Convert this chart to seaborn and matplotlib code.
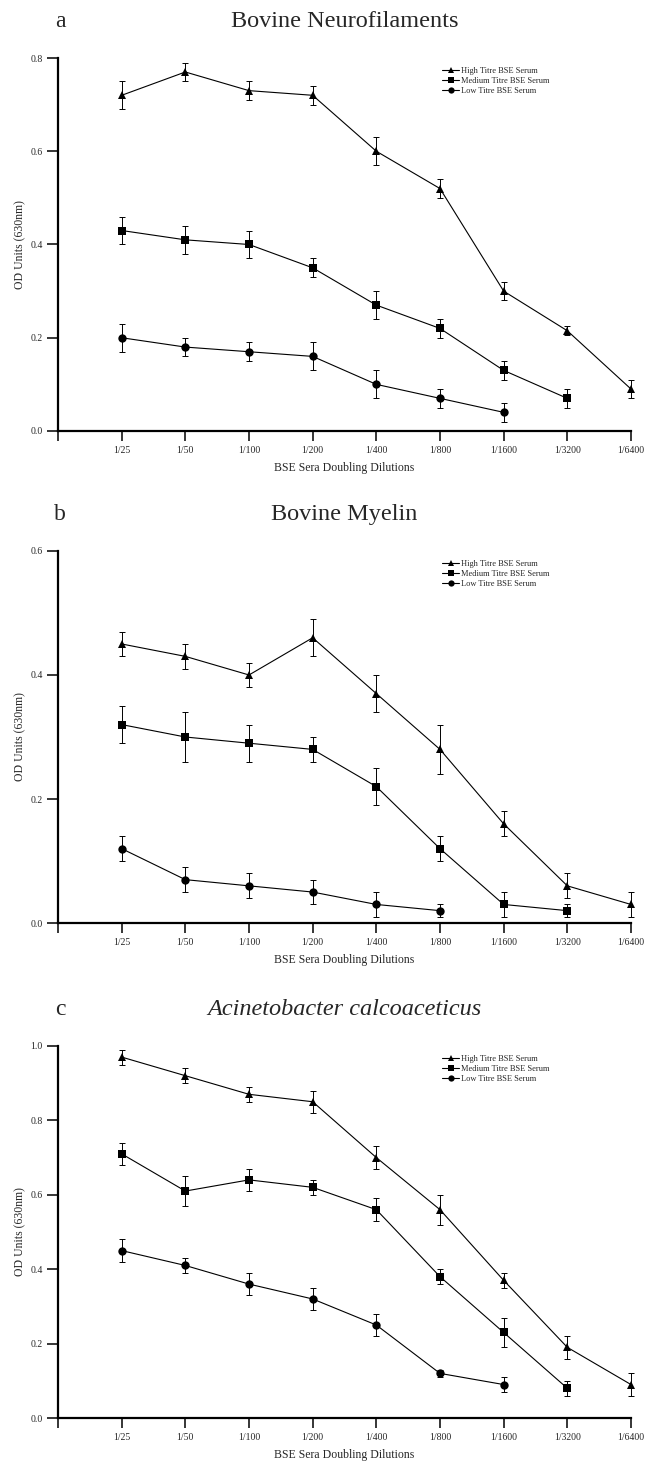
import numpy as np
import pandas as pd
import matplotlib
matplotlib.use("Agg")
import matplotlib.pyplot as plt
import seaborn as sns

# ── Data ──────────────────────────────────────────────────────────────────────
dilutions = ["1/25", "1/50", "1/100", "1/200", "1/400", "1/800", "1/1600", "1/3200", "1/6400"]
series_names = ["High Titre BSE Serum", "Medium Titre BSE Serum", "Low Titre BSE Serum"]

# a — Bovine Neurofilaments
neuro_high = [0.72, 0.77, 0.73, 0.72, 0.60, 0.52, 0.30, 0.215, 0.09]
neuro_high_err = [0.03, 0.02, 0.02, 0.02, 0.03, 0.02, 0.02, 0.01, 0.02]
neuro_med = [0.43, 0.41, 0.40, 0.35, 0.27, 0.22, 0.13, 0.07]
neuro_med_err = [0.03, 0.03, 0.03, 0.02, 0.03, 0.02, 0.02, 0.02]
neuro_low = [0.20, 0.18, 0.17, 0.16, 0.10, 0.07, 0.04]
neuro_low_err = [0.03, 0.02, 0.02, 0.03, 0.03, 0.02, 0.02]

# b — Bovine Myelin
myelin_high = [0.45, 0.43, 0.40, 0.46, 0.37, 0.28, 0.16, 0.06, 0.03]
myelin_high_err = [0.02, 0.02, 0.02, 0.03, 0.03, 0.04, 0.02, 0.02, 0.02]
myelin_med = [0.32, 0.30, 0.29, 0.28, 0.22, 0.12, 0.03, 0.02]
myelin_med_err = [0.03, 0.04, 0.03, 0.02, 0.03, 0.02, 0.02, 0.01]
myelin_low = [0.12, 0.07, 0.06, 0.05, 0.03, 0.02]
myelin_low_err = [0.02, 0.02, 0.02, 0.02, 0.02, 0.01]

# c — Acinetobacter calcoaceticus
acin_high = [0.97, 0.92, 0.87, 0.85, 0.70, 0.56, 0.37, 0.19, 0.09]
acin_high_err = [0.02, 0.02, 0.02, 0.03, 0.03, 0.04, 0.02, 0.03, 0.03]
acin_med = [0.71, 0.61, 0.64, 0.62, 0.56, 0.38, 0.23, 0.08]
acin_med_err = [0.03, 0.04, 0.03, 0.02, 0.03, 0.02, 0.04, 0.02]
acin_low = [0.45, 0.41, 0.36, 0.32, 0.25, 0.12, 0.09]
acin_low_err = [0.03, 0.02, 0.03, 0.03, 0.03, 0.01, 0.02]

panels = [
    ("a", "Bovine Neurofilaments", "normal", 0.8,
     [(neuro_high, neuro_high_err), (neuro_med, neuro_med_err), (neuro_low, neuro_low_err)]),
    ("b", "Bovine Myelin", "normal", 0.6,
     [(myelin_high, myelin_high_err), (myelin_med, myelin_med_err), (myelin_low, myelin_low_err)]),
    ("c", "Acinetobacter calcoaceticus", "italic", 1.0,
     [(acin_high, acin_high_err), (acin_med, acin_med_err), (acin_low, acin_low_err)]),
]

markers = {series_names[0]: "^", series_names[1]: "s", series_names[2]: "o"}

# ── Style ─────────────────────────────────────────────────────────────────────
sns.set_style("ticks")
plt.rcParams["font.family"] = ["Liberation Serif", "DejaVu Serif"]

fig = plt.figure(figsize=(6.59, 14.61), dpi=100)
left, width = 0.088, 0.8695
axes_rects = [
    [left, 0.7050, width, 0.2553],
    [left, 0.3682, width, 0.2547],
    [left, 0.0294, width, 0.2547],
]

for rect, (letter, title, fstyle, ytop, series) in zip(axes_rects, panels):
    ax = fig.add_axes(rect)

    rows = []
    for name, (vals, errs) in zip(series_names, series):
        for i, (v, e) in enumerate(zip(vals, errs)):
            rows.append({"pos": i + 1, "od": v, "err": e, "serum": name})
    df = pd.DataFrame(rows)

    for name in series_names:
        sub = df[df["serum"] == name]
        eb = ax.errorbar(sub["pos"], sub["od"], yerr=sub["err"], fmt="none",
                         ecolor="black", elinewidth=0.7, capsize=2.2, capthick=0.7, zorder=2)
        for art in eb.lines[1] + eb.lines[2]:
            art.set_clip_on(False)

    sns.lineplot(data=df, x="pos", y="od", hue="serum", style="serum",
                 markers=markers, dashes=False, palette=["black"] * 3,
                 hue_order=series_names, style_order=series_names,
                 linewidth=0.8, markersize=6, markeredgewidth=0,
                 ax=ax, zorder=3, clip_on=False)

    ax.set_xlim(0, 9)
    ax.set_ylim(0, ytop)
    ax.set_xticks(range(0, 10))
    ax.set_xticklabels([""] + dilutions)
    ax.set_yticks(np.arange(0, ytop + 0.001, 0.2))
    ax.set_yticklabels([f"{t:.1f}" for t in np.arange(0, ytop + 0.001, 0.2)])
    ax.tick_params(axis="both", labelsize=7, length=7, width=1.3, direction="out", pad=4)
    ax.tick_params(axis="y", length=8, pad=3)

    sns.despine(ax=ax)
    for side in ["left", "bottom"]:
        ax.spines[side].set_linewidth(1.6)
        ax.spines[side].set_color("black")

    ax.set_xlabel("BSE Sera Doubling Dilutions", fontsize=8.5)
    ax.set_ylabel("OD Units (630nm)", fontsize=8.5)
    ax.xaxis.set_label_coords(0.5, -0.098)
    ax.xaxis.label.set_verticalalignment("center")
    ax.yaxis.set_label_coords(-0.066, 0.5)
    ax.yaxis.label.set_verticalalignment("center")

    ax.text(0.5, 1.097, title, transform=ax.transAxes, ha="center", va="center",
            fontsize=17.5, fontstyle=fstyle)
    ax.text(0.004, 1.097, letter, transform=ax.transAxes, ha="center", va="center",
            fontsize=17)

    leg = ax.legend(loc="upper left", bbox_to_anchor=(0.665, 0.985), frameon=False,
                    fontsize=6, handlelength=2.0, handletextpad=0.2, labelspacing=0.25,
                    borderaxespad=0, markerscale=0.75)

fig.savefig("out.png", dpi=100)
